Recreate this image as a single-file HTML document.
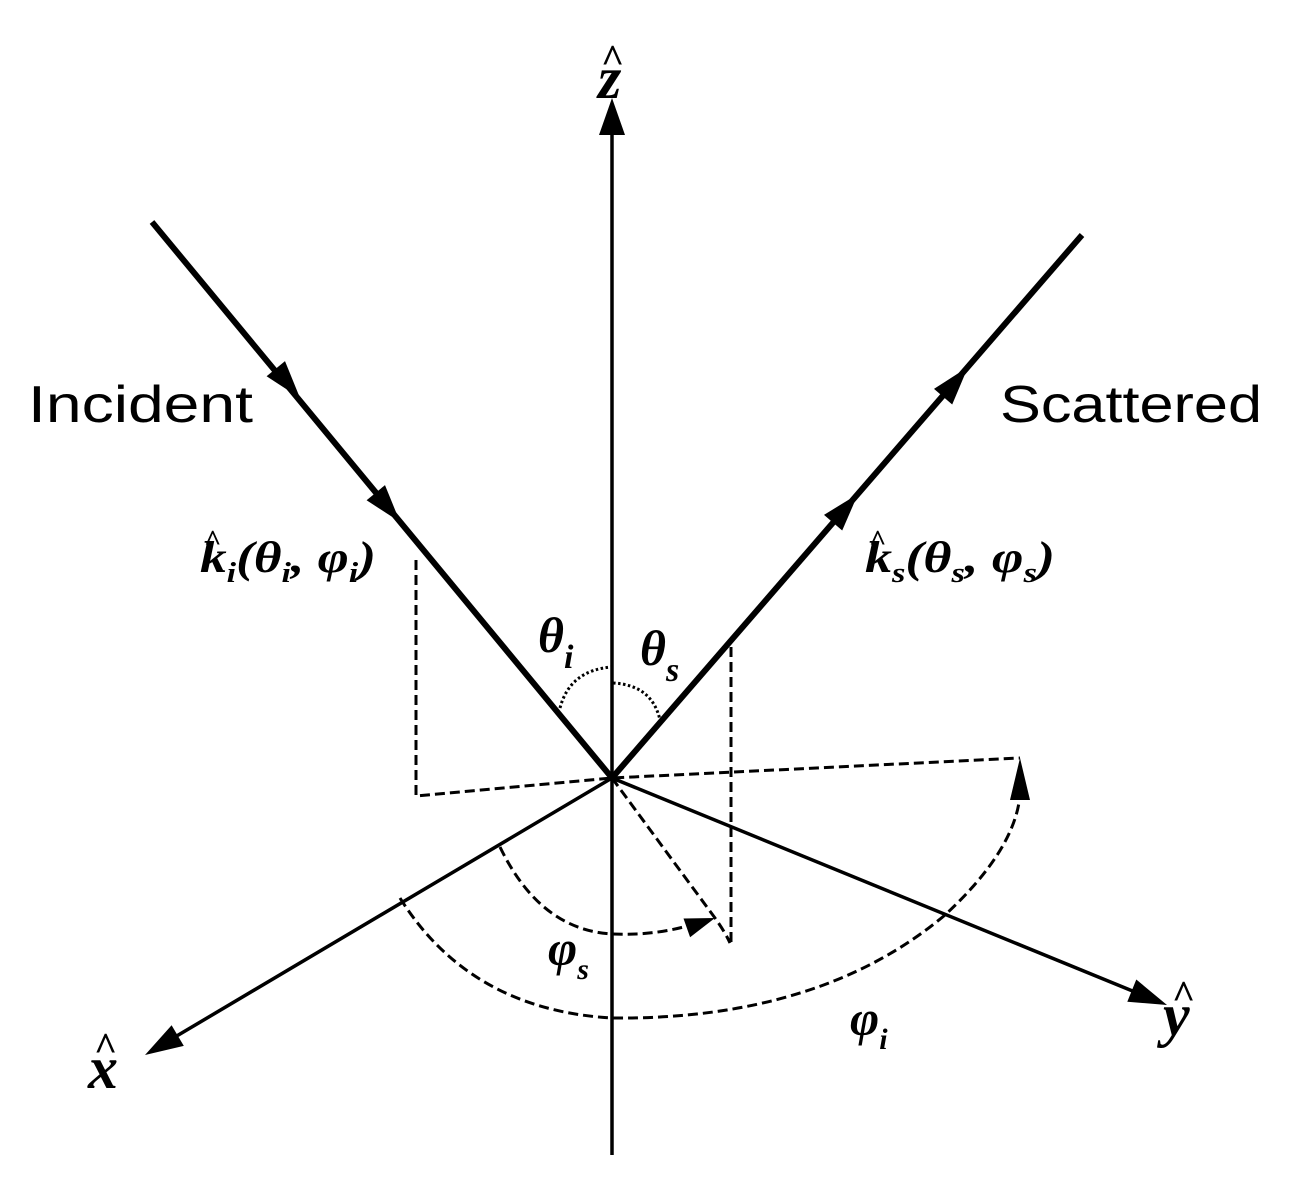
<!DOCTYPE html>
<html><head><meta charset="utf-8"><style>
html,body{margin:0;padding:0;background:#fff;}
svg{display:block;}
.m{font-family:"Liberation Serif","DejaVu Serif",serif;font-style:italic;font-weight:bold;}
.h{font-family:"Liberation Serif","DejaVu Serif",serif;font-weight:bold;}
.s{font-family:"Liberation Sans","DejaVu Sans",sans-serif;}
</style></head><body>
<svg width="1301" height="1187" viewBox="0 0 1301 1187" xmlns="http://www.w3.org/2000/svg">
<g stroke="#000" fill="none">
<line x1="612" y1="130" x2="612" y2="1155" stroke-width="3.5"/>
<line x1="612" y1="778" x2="175" y2="1037" stroke-width="3.5"/>
<line x1="612" y1="778" x2="1135" y2="992" stroke-width="3.5"/>
<line x1="152" y1="222" x2="612" y2="778" stroke-width="6"/>
<line x1="612" y1="778" x2="1082" y2="235" stroke-width="6"/>
<g stroke-width="3" stroke-dasharray="10,5">
<polyline points="416,560 416,796 612,778 1020,758"/>
<line x1="731" y1="647" x2="731" y2="945"/>
<path d="M612,778 L715,918 Q725,932 730,943"/>
<path d="M500,847 Q540,930 612,934 Q660,936 700,922"/>
<path d="M400,898 Q470,1010 612,1018 Q820,1020 945,915 Q1015,850 1020,795"/>
</g>
<g stroke-width="3" stroke-dasharray="2.5,2.5">
<path d="M560,708 Q570,670 612,667"/>
<path d="M613,683 Q652,685 660,720"/>
</g>
</g>
<g fill="#000">
<polygon points="612,98 599,135 625,135"/>
<polygon points="145,1055 171.6,1025.3 183.8,1045.9"/>
<polygon points="1167,1005 1127.3,1001.7 1136.3,979.5"/>
<polygon points="300,398 266.6,376.3 285,361.1"/>
<polygon points="400,522 366.6,500.3 385,485.1"/>
<polygon points="968,367 952.2,404.5 934,388.9"/>
<polygon points="858,494 842.2,530.5 824,514.9"/>
<polygon points="715,918 690.1,937.3 683.5,918.5"/>
<polygon points="1020,758 1010,800 1030,800"/>
</g>
<text x="28" y="422" class="s" font-size="52" textLength="225" lengthAdjust="spacingAndGlyphs">Incident</text>
<text x="1000" y="422" class="s" font-size="52" textLength="262" lengthAdjust="spacingAndGlyphs">Scattered</text>
<text x="598" y="98" class="m" font-size="60">z</text>
<text x="601" y="72" class="h" font-size="40">^</text>
<text x="88" y="1088" class="m" font-size="60">x</text>
<text x="94" y="1060" class="h" font-size="40">^</text>
<text x="1163" y="1035" class="m" font-size="60">y</text>
<text x="1172" y="1008" class="h" font-size="40">^</text>
<text x="200" y="572" class="m" font-size="44" textLength="176" lengthAdjust="spacingAndGlyphs">k<tspan font-size="28" dy="10">i</tspan><tspan dy="-10">(θ</tspan><tspan font-size="28" dy="10">i</tspan><tspan dy="-10">, φ</tspan><tspan font-size="28" dy="10">i</tspan><tspan dy="-10">)</tspan></text>
<text x="204" y="550" class="h" font-size="30">^</text>
<text x="865" y="572" class="m" font-size="44" textLength="190" lengthAdjust="spacingAndGlyphs">k<tspan font-size="28" dy="10">s</tspan><tspan dy="-10">(θ</tspan><tspan font-size="28" dy="10">s</tspan><tspan dy="-10">, φ</tspan><tspan font-size="28" dy="10">s</tspan><tspan dy="-10">)</tspan></text>
<text x="869" y="550" class="h" font-size="30">^</text>
<text x="538" y="652" class="m" font-size="50">θ<tspan font-size="34" dy="16">i</tspan></text>
<text x="640" y="665" class="m" font-size="50">θ<tspan font-size="34" dy="16">s</tspan></text>
<text x="548" y="965" class="m" font-size="50">φ<tspan font-size="30" dy="14">s</tspan></text>
<text x="850" y="1035" class="m" font-size="50">φ<tspan font-size="30" dy="14">i</tspan></text>
</svg>
</body></html>
